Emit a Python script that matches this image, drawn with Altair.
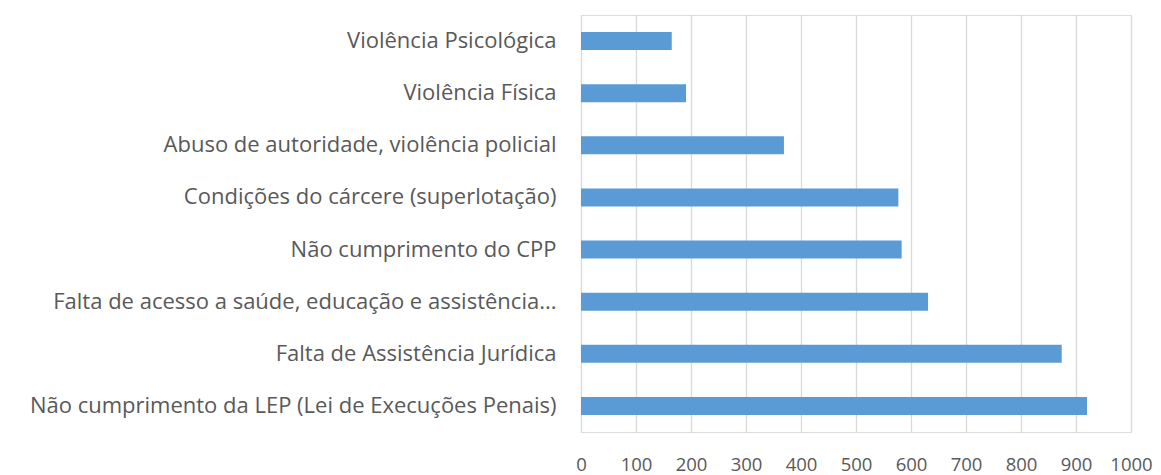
import altair as alt
import pandas as pd

categories = [
    "Violência Psicológica",
    "Violência Física",
    "Abuso de autoridade, violência policial",
    "Condições do cárcere (superlotação)",
    "Não cumprimento do CPP",
    "Falta de acesso a saúde, educação e assistência...",
    "Falta de Assistência Jurídica",
    "Não cumprimento da LEP (Lei de Execuções Penais)",
]
values = [165, 191, 369, 577, 583, 631, 874, 920]
x_ticks = [0, 100, 200, 300, 400, 500, 600, 700, 800, 900, 1000]

df = pd.DataFrame({"categoria": categories, "valor": values})

FONT = "Open Sans"

chart = alt.Chart(df).mark_bar(color="#5B9BD5").encode(
    x=alt.X("valor:Q",
            scale=alt.Scale(domain=[0, 1000], nice=False),
            axis=alt.Axis(values=x_ticks, format="d", title=None, grid=True,
                          gridColor="#D9D9D9", gridWidth=1.3, domain=False, ticks=False,
                          labelPadding=23, labelOverlap=False, labelFlush=False,
                          labelFontSize=18.5, labelColor="#595959", labelFont=FONT)),
    y=alt.Y("categoria:N", sort=categories,
            scale=alt.Scale(paddingInner=0.655, paddingOuter=0.3275),
            axis=alt.Axis(title=None, domain=False, ticks=False, labelPadding=25,
                          labelFontSize=22, labelColor="#595959", labelFont=FONT,
                          labelLimit=600)),
).properties(
    width=550, height=417,
    autosize=alt.AutoSizeParams(type="none"),
    padding={"left": 573, "top": 7, "right": 22, "bottom": 50},
).configure_view(stroke=None).configure(background="white")

chart.save("out.html", embed_options={"renderer": "svg", "actions": False})
